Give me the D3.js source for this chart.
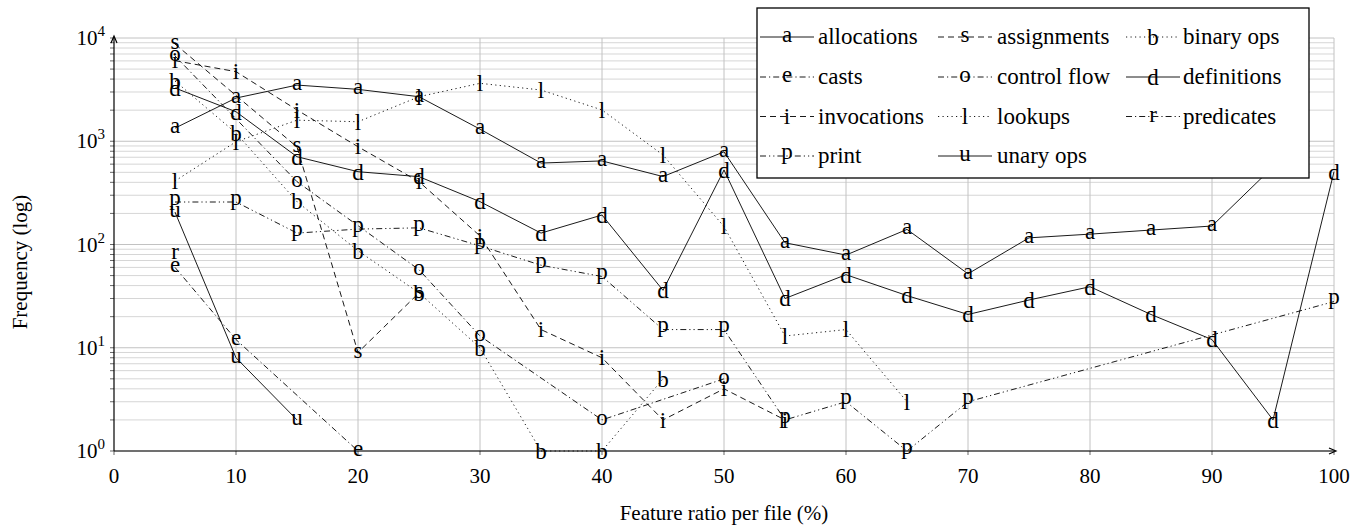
<!DOCTYPE html>
<html>
<head>
<meta charset="UTF-8" />
<script src="https://d3js.org/d3.v7.min.js"></script>
</head>
<body style="margin:0">
<script>
// feature ratio per file (%), x positions of the samples
const ratios = [5, 10, 15, 20, 25, 30, 35, 40, 45, 50, 55, 60, 65, 70, 75, 80, 85, 90, 95, 100];

// frequencies per series, null = no point (zero on the log axis)
const allocations = [1340, 2620, 3500, 3180, 2700, 1310, 615, 645, 455, 790, 104, 79, 140, 52, 116, 126, 138, 151, 565, null];
const assignments = [8750, null, 880, 9, 34, null, null, null, null, null, null, null, null, null, null, null, null, null, null, null];
const binaryOps = [3830, 1200, 260, 87, 34, 10, 1, 1, 5, null, null, null, null, null, null, null, null, null, null, null];
const casts = [60, 12, null, 1, null, null, null, null, null, null, null, null, null, null, null, null, null, null, null, null];
const controlFlow = [6700, null, 406, null, 57, 13, null, 2, null, 5, null, null, null, null, null, null, null, null, null, null];
const definitions = [3280, 1930, 708, 507, 454, 260, 129, 193, 36, 526, 30, 51, 32, 21, 29, 39, 21, 12, 2, 507];
const invocations = [6030, 4720, 2010, 885, 406, 121, 15, 8, 2, 4, 2, null, null, null, null, null, null, null, null, null];
const lookups = [412, 990, 1600, 1545, 2700, 3640, 3135, 2010, 736, 149, 13, 15, 3, null, null, null, null, null, null, null];
const predicates = [81, null, null, null, null, null, null, null, null, null, null, null, null, null, null, null, null, null, null, null];
const printOps = [258, 258, 129, 141, 145, 97, 63, 49, 15, 15, 2, 3, 1, 3, null, null, null, null, null, 28];
const unaryOps = [206, 8, 2, null, null, null, null, null, null, null, null, null, null, null, null, null, null, null, null, null];

const seriesNames = ["allocations", "assignments", "binary ops", "casts", "control flow", "definitions",
  "invocations", "lookups", "predicates", "print", "unary ops"];
const seriesMarks = ["a", "s", "b", "e", "o", "d", "i", "l", "r", "p", "u"];
const seriesValues = [allocations, assignments, binaryOps, casts, controlFlow, definitions,
  invocations, lookups, predicates, printOps, unaryOps];

const xTicks = [0, 10, 20, 30, 40, 50, 60, 70, 80, 90, 100];
const yTicks = [1, 10, 100, 1000, 10000];

// line styles, per series
const dashes = {
  solid: null,
  dashed: "6,4",
  dotted: "1.2,3.3",
  dashdot: "6,3,1.2,3",
  dashdotdot: "6,3,1.2,3,1.2,3",
};
const seriesDash = ["solid", "dashed", "dotted", "dashdot", "dashdot", "solid",
  "dashed", "dotted", "dashdot", "dashdotdot", "solid"];
// vertical shift (em) so a letter's ink sits centred on its point
const markShift = { a: 0.22, s: 0.22, b: 0.34, e: 0.22, o: 0.22, d: 0.34, i: 0.33, l: 0.34, r: 0.22, p: 0.12, u: 0.22 };

const width = 1370;
const height = 526;
const plotLeft = 114, plotRight = 1334, plotTop = 38, plotBottom = 451;
const markSize = 23;
const serif = '"Liberation Serif"';

const svg = d3.select("body").append("svg")
  .attr("width", width).attr("height", height);

function label(sel) {
  return sel.append("text").style("font-family", serif).attr("fill", "black");
}

const x = d3.scaleLinear().domain([0, 100]).range([plotLeft, plotRight]);
const y = d3.scaleLog().domain([1, 10000]).range([plotBottom, plotTop]);

// grid
const minor = [];
for (let k = 0; k < 4; k++) for (let m = 2; m <= 9; m++) minor.push(m * Math.pow(10, k));
const grid = svg.append("g");
grid.selectAll(".ymin").data(minor).enter().append("line")
  .attr("x1", plotLeft).attr("x2", plotRight)
  .attr("y1", (d) => y(d)).attr("y2", (d) => y(d))
  .attr("stroke", "#d6d6d6").attr("stroke-width", 1);
grid.selectAll(".ymaj").data(yTicks).enter().append("line")
  .attr("x1", plotLeft).attr("x2", plotRight)
  .attr("y1", (d) => y(d)).attr("y2", (d) => y(d))
  .attr("stroke", "#c2c2c2").attr("stroke-width", 1);
grid.selectAll(".xmaj").data(xTicks.slice(1)).enter().append("line")
  .attr("x1", (d) => x(d)).attr("x2", (d) => x(d))
  .attr("y1", plotTop).attr("y2", plotBottom)
  .attr("stroke", "#c2c2c2").attr("stroke-width", 1);

// series
const plot = svg.append("g");
seriesValues.forEach(function (vals, s) {
  const pts = ratios.map((r, i) => [r, vals[i]]).filter((d) => d[1] != null);
  const line = d3.line().x((d) => x(d[0])).y((d) => y(d[1]));
  plot.append("path")
    .attr("d", line(pts))
    .attr("fill", "none")
    .attr("stroke", "black")
    .attr("stroke-width", 0.9)
    .attr("stroke-dasharray", dashes[seriesDash[s]]);
  const letter = seriesMarks[s];
  pts.forEach(function (d) {
    label(plot)
      .attr("x", x(d[0]))
      .attr("y", y(d[1]) + markShift[letter] * markSize)
      .attr("text-anchor", "middle")
      .attr("font-size", markSize)
      .text(letter);
  });
});

// axes
const ax = svg.append("g");
ax.append("line").attr("x1", plotLeft).attr("x2", plotLeft).attr("y1", plotBottom).attr("y2", plotTop - 1)
  .attr("stroke", "black").attr("stroke-width", 1.2);
ax.append("line").attr("x1", plotLeft).attr("x2", plotRight + 1).attr("y1", plotBottom).attr("y2", plotBottom)
  .attr("stroke", "black").attr("stroke-width", 1.2);
ax.append("path").attr("d", `M${plotLeft - 3},${plotTop + 5} L${plotLeft},${plotTop - 2} L${plotLeft + 3},${plotTop + 5}`)
  .attr("fill", "none").attr("stroke", "black").attr("stroke-width", 1.2);
ax.append("path").attr("d", `M${plotRight - 5},${plotBottom - 3} L${plotRight + 2},${plotBottom} L${plotRight - 5},${plotBottom + 3}`)
  .attr("fill", "none").attr("stroke", "black").attr("stroke-width", 1.2);

ax.selectAll(".yt").data(yTicks.concat(minor)).enter().append("line")
  .attr("x1", plotLeft - 4).attr("x2", plotLeft)
  .attr("y1", (d) => y(d)).attr("y2", (d) => y(d))
  .attr("stroke", "black").attr("stroke-width", 0.6);
ax.selectAll(".xt").data(xTicks).enter().append("line")
  .attr("x1", (d) => x(d)).attr("x2", (d) => x(d))
  .attr("y1", plotBottom).attr("y2", plotBottom + 4)
  .attr("stroke", "black").attr("stroke-width", 0.6);

xTicks.forEach(function (t) {
  label(ax)
    .attr("x", x(t)).attr("y", plotBottom + 32)
    .attr("text-anchor", "middle").attr("font-size", 21)
    .text(t);
});

yTicks.forEach(function (t) {
  const yl = label(ax)
    .attr("x", plotLeft - 9).attr("y", y(t) + 7)
    .attr("text-anchor", "end").attr("font-size", 21);
  yl.append("tspan").text("10");
  yl.append("tspan").attr("dy", -9).attr("font-size", 15).text(Math.round(Math.log10(t)));
});

label(svg)
  .attr("x", (plotLeft + plotRight) / 2).attr("y", 520)
  .attr("text-anchor", "middle").attr("font-size", 21)
  .text("Feature ratio per file (%)");
label(svg)
  .attr("transform", "translate(27,262) rotate(-90)")
  .attr("text-anchor", "middle").attr("font-size", 21)
  .text("Frequency (log)");

// legend
const legend = svg.append("g");
legend.append("rect")
  .attr("x", 757).attr("y", 8).attr("width", 552).attr("height", 170)
  .attr("fill", "white").attr("stroke", "black").attr("stroke-width", 1.3);
const colSample = [787, 965, 1153];
const colText = [818, 997, 1183];
const rowY = [37, 77, 116.5, 156];
seriesNames.forEach(function (name, s) {
  const c = s % 3, r = Math.floor(s / 3);
  const cx = colSample[c], cy = rowY[r];
  legend.append("line")
    .attr("x1", cx - 27).attr("x2", cx + 27).attr("y1", cy).attr("y2", cy)
    .attr("stroke", "black").attr("stroke-width", 0.9)
    .attr("stroke-dasharray", dashes[seriesDash[s]]);
  const letter = seriesMarks[s];
  label(legend)
    .attr("x", cx).attr("y", cy + markShift[letter] * markSize)
    .attr("text-anchor", "middle").attr("font-size", markSize)
    .text(letter);
  label(legend)
    .attr("x", colText[c]).attr("y", cy + 7)
    .attr("font-size", markSize)
    .text(name);
});
</script>
</body>
</html>
